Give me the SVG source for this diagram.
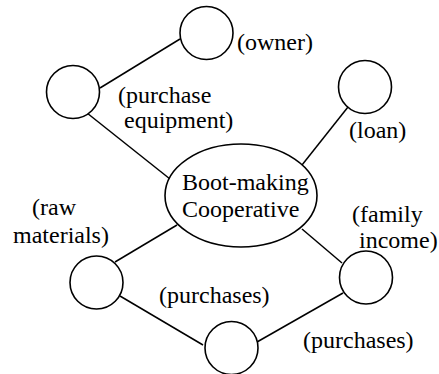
<svg xmlns="http://www.w3.org/2000/svg" width="439" height="374" viewBox="0 0 439 374">
<style>
.n{fill:#fff;stroke:#000;stroke-width:1.6}
.c line{stroke:#000;stroke-width:1.5}
</style>
<rect width="439" height="374" fill="#fff"/>
<g id="connectors" class="c">
<line x1="100" y1="88" x2="180" y2="39"/>
<line x1="87" y1="113" x2="170" y2="179"/>
<line x1="348" y1="107" x2="302" y2="165"/>
<line x1="177" y1="225" x2="115" y2="262"/>
<line x1="120" y1="296" x2="203" y2="345"/>
<line x1="302" y1="229" x2="342" y2="263"/>
<line x1="343" y1="293" x2="257" y2="342"/>
</g>
<g font-family="Liberation Serif" font-size="24" fill="#000">
<g id="coop"><ellipse class="n" cx="241" cy="195.5" rx="76" ry="51.5"/><text x="182" y="190">Boot-making</text><text x="182" y="217">Cooperative</text></g>
<g id="owner"><circle class="n" cx="206.5" cy="33" r="26.5"/><text x="237" y="50">(owner)</text></g>
<g id="equipment"><circle class="n" cx="73" cy="92" r="26.5"/><text x="118" y="103">(purchase</text><text x="124" y="128">equipment)</text></g>
<g id="loan"><circle class="n" cx="365" cy="87" r="26.5"/><text x="349" y="138">(loan)</text></g>
<g id="raw"><circle class="n" cx="96.5" cy="282.5" r="26.5"/><text x="32" y="215">(raw</text><text x="13" y="243">materials)</text></g>
<g id="family"><circle class="n" cx="366" cy="277.5" r="26.5"/><text x="352" y="222">(family</text><text x="359" y="248">income)</text></g>
<g id="bottom"><circle class="n" cx="231.5" cy="348" r="26.5"/><text x="159" y="303">(purchases)</text><text x="303" y="348">(purchases)</text></g>
</g>
</svg>
